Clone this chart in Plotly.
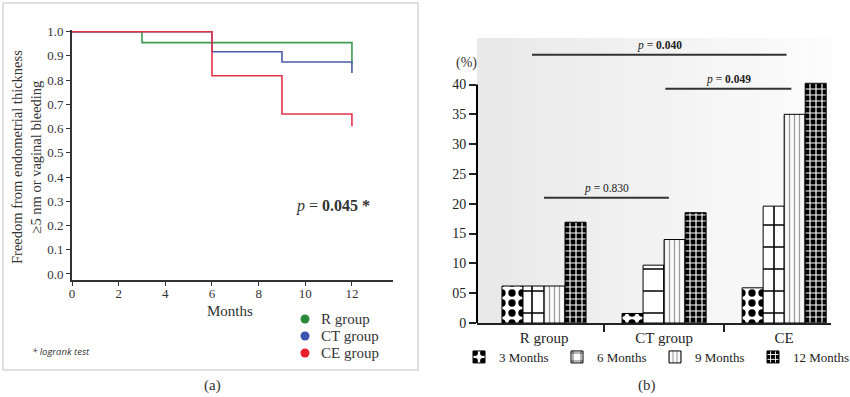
import plotly.graph_objects as go

# ---------- Data: panel (a) Kaplan-Meier ----------
months_R = [0, 3, 12, 12]
surv_R = [1.0, 0.955, 0.955, 0.87]
months_CT = [0, 6, 9, 12, 12]
surv_CT = [1.0, 0.917, 0.875, 0.875, 0.83]
months_CE = [0, 6, 9, 12, 12]
surv_CE = [1.0, 0.818, 0.66, 0.66, 0.61]
km_names = ["R group", "CT group", "CE group"]

# ---------- Data: panel (b) bars ----------
groups = ["R group", "CT group", "CE"]
periods = ["3 Months", "6 Months", "9 Months", "12 Months"]
pct_3m = [6.2, 1.6, 5.9]
pct_6m = [6.2, 9.7, 19.6]
pct_9m = [6.2, 14.0, 35.0]
pct_12m = [16.9, 18.5, 40.2]
y_ticks_b = [0, 5, 10, 15, 20, 25, 30, 35, 40]
y_ticktext_b = ["0", "05", "10", "15", "20", "25", "30", "35", "40"]
# comparison brackets: (x_start, x_end, y, label)
brackets = [(-0.10, 2.02, 45.0, "0.040"), (1.01, 2.06, 39.3, "0.049"), (0.0, 1.04, 21.0, "0.830")]

W, H = 850, 397
def px(x): return x / W
def py(y): return 1 - y / H

SERIF = "Liberation Serif"
fig = go.Figure()

line_cols = ["#3f9a52", "#4b5ba8", "#e3344c"]
dot_cols = ["#2a8a3a", "#3b55b0", "#e8202e"]
for xs, ys, c, nm in [(months_R, surv_R, line_cols[0], km_names[0]),
                      (months_CT, surv_CT, line_cols[1], km_names[1]),
                      (months_CE, surv_CE, line_cols[2], km_names[2])]:
    fig.add_trace(go.Scatter(x=xs, y=ys, mode="lines", name=nm, line=dict(shape="hv", color=c, width=1.6),
                             showlegend=False, xaxis="x", yaxis="y"))

patterns = [
    dict(shape=".", fgcolor="black", bgcolor="white", size=10, solidity=0.42, fillmode="replace"),
    dict(shape="+", fgcolor="black", bgcolor="white", size=22, solidity=0.14, fillmode="replace"),
    dict(shape="|", fgcolor="#9a9a9a", bgcolor="#fafafa", size=5, solidity=0.25, fillmode="replace"),
    dict(shape="+", fgcolor="white", bgcolor="black", size=6, solidity=0.35, fillmode="replace"),
]
xpos = list(range(len(groups)))
for name, vals, pat in zip(periods, [pct_3m, pct_6m, pct_9m, pct_12m], patterns):
    fig.add_trace(go.Bar(x=xpos, y=vals, name=name, xaxis="x2", yaxis="y2", legend="legend2",
                         marker=dict(color="white", pattern=pat, line=dict(color="black", width=1))))

shapes = []
annotations = []
# panel (a) border
shapes.append(dict(type="rect", xref="paper", yref="paper", x0=px(3), x1=px(418), y0=py(370), y1=py(3),
                   line=dict(color="#d6d6d6", width=1.5), layer="below"))
# panel (a) legend: dots + labels
for i, (name, c) in enumerate(zip(km_names, dot_cols)):
    yy = 319 + 17 * i
    shapes.append(dict(type="circle", xref="paper", yref="paper", xsizemode="pixel", ysizemode="pixel",
                       xanchor=px(305), yanchor=py(yy), x0=-4.5, x1=4.5, y0=-4.5, y1=4.5,
                       fillcolor=c, line=dict(width=0)))
    annotations.append(dict(xref="paper", yref="paper", x=px(319), y=py(yy), text=name,
                            xanchor="left", yanchor="middle", showarrow=False,
                            font=dict(family=SERIF, size=15, color="#333")))
# panel (b) gradient background
n = 24
for i in range(n):
    g = int(233 + (252 - 233) * i / (n - 1))
    shapes.append(dict(type="rect", xref="x2 domain", yref="y2 domain", x0=i / n, x1=(i + 1) / n + 0.002,
                       y0=0, y1=1, line=dict(width=0), fillcolor=f"rgb({g},{g},{g})", layer="below"))
# panel (b) y axis line up to 40
shapes.append(dict(type="line", xref="x2 domain", yref="y2", x0=0, x1=0, y0=0, y1=40,
                   line=dict(color="black", width=2)))
for x0, x1, y, lab in brackets:
    shapes.append(dict(type="line", xref="x2", yref="y2", x0=x0, x1=x1, y0=y, y1=y,
                       line=dict(color="#333", width=2)))
    xm = (x0 + x1) / 2
    txt = f"<i>p</i> = <b>{lab}</b>" if lab != "0.830" else f"<i>p</i> = {lab}"
    annotations.append(dict(xref="x2", yref="y2", x=xm, y=y, text=txt,
                            showarrow=False, xanchor="center", yanchor="bottom", yshift=1,
                            font=dict(family=SERIF, size=11.5, color="#222")))

def note(x, y, text, size, **kw):
    d = dict(xref="paper", yref="paper", x=px(x), y=py(y), text=text, showarrow=False,
             xanchor="center", yanchor="middle", font=dict(family=SERIF, size=size, color="#333"))
    d.update(kw)
    return d

annotations += [
    note(27, 157, "Freedom from endometrial thickness<br>≥5 nm or vaginal bleeding", 14.5, textangle=-90),
    note(230, 311, "Months", 15),
    note(333, 206, "<i>p</i> = <b>0.045 *</b>", 16),
    note(30, 351, "<i>* logrank test</i>", 9.5, xanchor="left",
         font=dict(family="Open Sans", size=9.5, color="#333")),
    note(212, 385, "(a)", 15),
    note(647, 385, "(b)", 15),
    note(466, 63, "(%)", 14),
]

fig.update_layout(
    width=W, height=H, margin=dict(l=0, r=0, t=0, b=0, autoexpand=False),
    paper_bgcolor="white", plot_bgcolor="rgba(0,0,0,0)",
    barmode="group", bargap=0.3, bargroupgap=0,
    xaxis=dict(domain=[px(72), px(393)], range=[0, 13.76], tickvals=[0, 2, 4, 6, 8, 10, 12],
               showgrid=False, zeroline=False, showline=True, linecolor="#333", linewidth=1.8,
               ticks="outside", ticklen=4, tickcolor="#333", anchor="y", ticklabelstandoff=-4,
               tickfont=dict(family=SERIF, size=13, color="#333")),
    yaxis=dict(domain=[py(280), py(30)], range=[-0.025, 1.007],
               tickvals=[i / 10 for i in range(11)], ticktext=[f"{i/10:.1f}" for i in range(11)],
               showgrid=False, zeroline=False, showline=True, linecolor="#333", linewidth=1.8,
               ticks="outside", ticklen=4, tickcolor="#333", anchor="x",
               tickfont=dict(family=SERIF, size=13, color="#333")),
    xaxis2=dict(domain=[px(477), px(831)], range=[-0.558, 2.39], tickvals=xpos, ticktext=groups,
                showgrid=False, zeroline=False, showline=True, linecolor="#222", linewidth=2,
                ticks="", anchor="y2",
                minor=dict(tickmode="array", tickvals=[0.5, 1.5], ticks="outside", ticklen=7,
                           tickwidth=1.5, tickcolor="#222"),
                tickfont=dict(family=SERIF, size=15, color="#222")),
    yaxis2=dict(domain=[py(323), py(38)], range=[0, 47.8], tickvals=y_ticks_b, ticktext=y_ticktext_b,
                showgrid=False, zeroline=False, showline=False,
                ticks="outside", ticklen=7, tickwidth=2, tickcolor="#222", anchor="x2",
                tickfont=dict(family=SERIF, size=14, color="#222")),
    legend2=dict(orientation="h", x=px(459), y=py(357), xanchor="left", yanchor="middle",
                 bgcolor="rgba(0,0,0,0)", entrywidth=53, entrywidthmode="pixels",
                 font=dict(family=SERIF, size=13, color="#222")),
    shapes=shapes, annotations=annotations,
)

fig.write_html("out.html", config={"displayModeBar": False},
               post_script="document.body.style.margin='0';")
